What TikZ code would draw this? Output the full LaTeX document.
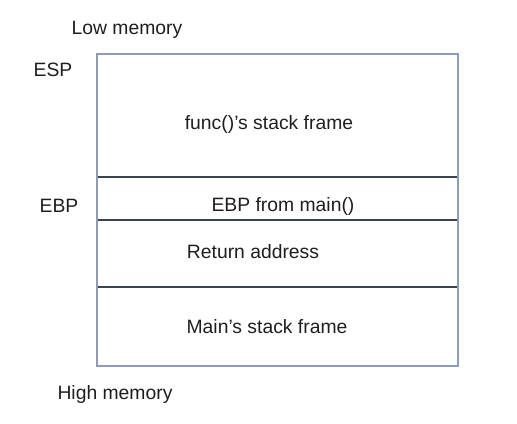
\documentclass[tikz,border=0pt]{standalone}
\usepackage{fontspec}
\setmainfont{Liberation Sans}
\definecolor{framegray}{HTML}{8E9CB8}
\definecolor{linegray}{HTML}{3C4450}
\definecolor{textgray}{HTML}{1E1E1E}

\begin{document}
\begin{tikzpicture}[x=0.02cm,y=-0.02cm,
    lbl/.style={text=textgray,font=\fontsize{11pt}{13pt}\selectfont,inner sep=0pt}]
            \useasboundingbox (0,0) rectangle (517,423);
            \coordinate (TL) at (97,54);
            \coordinate (BR) at (458,366);
            \draw[linegray,line width=0.6pt] (97,177) -- (458,177);
            \draw[linegray,line width=0.6pt] (97,220) -- (458,220);
            \draw[linegray,line width=0.6pt] (97,287) -- (458,287);
            \draw[framegray,line width=0.8pt] (TL) rectangle (BR);
            \node[lbl] (low) at (127,30) {Low memory};
            \node[lbl] (esp) at (53,70) {ESP};
            \node[lbl] (func) at (269,124) {func()'s stack frame};
            \node[lbl] (ebp) at (59,206) {EBP};
            \node[lbl] (oldebp) at (283,206) {EBP from main()};
            \node[lbl] (ret) at (253,252) {Return address};
            \node[lbl] (mainf) at (267,327) {Main's stack frame};
            \node[lbl] (high) at (115,394) {High memory};
        \end{tikzpicture}
\end{document}
